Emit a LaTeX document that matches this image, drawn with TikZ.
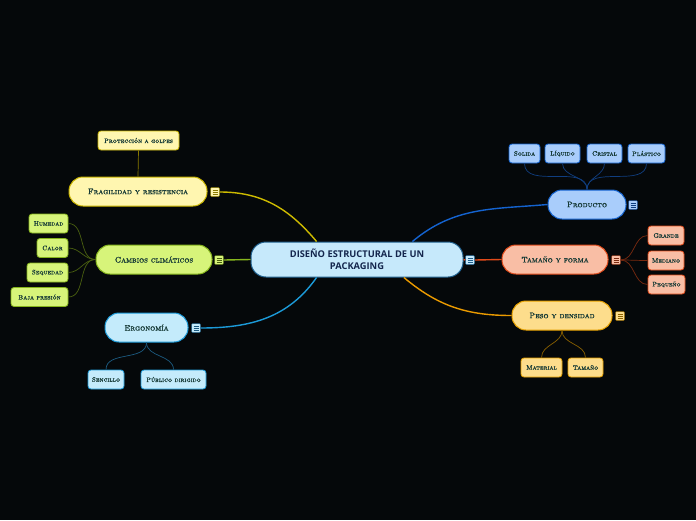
\documentclass[tikz,border=0pt]{standalone}
\usepackage{fontspec}
\newfontfamily\hubfont{Open Sans}
\newfontfamily\labelfont{lmromancaps10-regular.otf}[FakeBold=1.2]
\usepackage{xcolor}
\usetikzlibrary{calc}

\definecolor{bgdark}{HTML}{05080A}
\definecolor{labeltext}{HTML}{163A36}
\definecolor{hubfill}{HTML}{C6E9FB}
\definecolor{hubdraw}{HTML}{1F5F8C}
\definecolor{hubtext}{HTML}{14264D}
\definecolor{fragfill}{HTML}{FFF6B0}
\definecolor{fragdraw}{HTML}{C9B400}
\definecolor{fragtwig}{HTML}{8A7A00}
\definecolor{climfill}{HTML}{D7F47A}
\definecolor{climdraw}{HTML}{86B51D}
\definecolor{climtwig}{HTML}{4A6010}
\definecolor{ergofill}{HTML}{C4EBFB}
\definecolor{ergodraw}{HTML}{1C9AD8}
\definecolor{ergotwig}{HTML}{1C5A80}
\definecolor{prodfill}{HTML}{A9CDFB}
\definecolor{proddraw}{HTML}{1463D0}
\definecolor{prodtwig}{HTML}{103E80}
\definecolor{formfill}{HTML}{F9BEA5}
\definecolor{formdraw}{HTML}{E04A1A}
\definecolor{formtwig}{HTML}{7A2A10}
\definecolor{pesofill}{HTML}{FDDD8C}
\definecolor{pesodraw}{HTML}{E6A000}
\definecolor{pesotwig}{HTML}{8A6000}

\tikzset{
  branch/.style={draw, line width=1pt, rounded corners=14pt, minimum height=29pt, inner sep=0pt,
    text=labeltext, font=\labelfont\fontsize{8}{9}\selectfont},
  leaf/.style={draw, line width=0.8pt, rounded corners=3pt, minimum height=19pt, inner sep=0pt,
    text=labeltext, font=\labelfont\fontsize{6.5}{7}\selectfont},
  link/.style={line width=1.4pt},
  twig/.style={line width=0.7pt},
}

% name, position, fill, stroke
\newcommand{\mmicon}[4]{%
  \node[draw=#4, fill=#3, rounded corners=1pt, minimum size=9pt, inner sep=0pt, line width=0.5pt] (#1) at (#2) {};
  \foreach \dy in {-2,0,2}
    \draw[#4, line width=0.6pt] ($(#1.center)+(-2.5,\dy)$) -- ($(#1.center)+(2.5,\dy)$);
}

\begin{document}
\begin{tikzpicture}[x=1pt, y=-1pt]
  \fill[bgdark] (0,0) rectangle (696,520);
  \useasboundingbox (0,0) rectangle (696,520);

  % centre
  \node[draw=hubdraw, fill=hubfill, line width=1pt, rounded corners=15pt, minimum width=212pt, minimum height=35pt,
    inner sep=0pt, align=center, text=hubtext, font=\hubfont\bfseries\fontsize{9.3}{12}\selectfont] (hub) at (357,259.5)
    {DISEÑO ESTRUCTURAL DE UN\\PACKAGING};
  \mmicon{hubicon}{470,260}{hubfill}{hubdraw}

  % left branches
  \node[branch, draw=fragdraw, fill=fragfill, minimum width=138pt] (frag) at (138,191.5) {Fragilidad y resistencia};
  \mmicon{fragicon}{215,192}{fragfill}{fragtwig}
  \node[leaf, draw=fragdraw, fill=fragfill, minimum width=81pt] (golpes) at (138.5,140.5) {Protección a golpes};

  \node[branch, draw=climdraw, fill=climfill, minimum width=116pt] (clima) at (154,259.5) {Cambios climáticos};
  \mmicon{climaicon}{219,260}{climfill}{climtwig}
  \node[leaf, draw=climdraw, fill=climfill, minimum width=39pt] (humedad) at (48.5,223.5) {Humedad};
  \node[leaf, draw=climdraw, fill=climfill, minimum width=31pt] (calor) at (52.5,248) {Calor};
  \node[leaf, draw=climdraw, fill=climfill, minimum width=41pt] (sequedad) at (47.5,272.5) {Sequedad};
  \node[leaf, draw=climdraw, fill=climfill, minimum width=57pt] (presion) at (39.5,297) {Baja presión};

  \node[branch, draw=ergodraw, fill=ergofill, minimum width=83pt] (ergo) at (146.5,327.5) {Ergonomía};
  \mmicon{ergoicon}{196,328}{ergofill}{ergotwig}
  \node[leaf, draw=ergodraw, fill=ergofill, minimum width=36pt] (sencillo) at (106,379.5) {Sencillo};
  \node[leaf, draw=ergodraw, fill=ergofill, minimum width=65pt] (publico) at (173.5,379.5) {Público dirigido};

  % right branches
  \node[branch, draw=proddraw, fill=prodfill, minimum width=78pt] (prod) at (587,204.5) {Producto};
  \mmicon{prodicon}{633,205}{prodfill}{prodtwig}
  \node[leaf, draw=proddraw, fill=prodfill, minimum width=31pt] (solida) at (524.5,153.5) {Solida};
  \node[leaf, draw=proddraw, fill=prodfill, minimum width=35pt] (liquido) at (562.5,153.5) {Líquido};
  \node[leaf, draw=proddraw, fill=prodfill, minimum width=35pt] (cristal) at (604.5,153.5) {Cristal};
  \node[leaf, draw=proddraw, fill=prodfill, minimum width=37pt] (plastico) at (646.5,153.5) {Plástico};

  \node[branch, draw=formdraw, fill=formfill, minimum width=106pt] (forma) at (555,259.5) {Tamaño y forma};
  \mmicon{formaicon}{616,260}{formfill}{formtwig}
  \node[leaf, draw=formdraw, fill=formfill, minimum width=36pt] (grande) at (666,235.5) {Grande};
  \node[leaf, draw=formdraw, fill=formfill, minimum width=36pt] (mediano) at (666,260.5) {Mediano};
  \node[leaf, draw=formdraw, fill=formfill, minimum width=37pt] (pequeno) at (666.5,284.5) {Pequeño};

  \node[branch, draw=pesodraw, fill=pesofill, minimum width=100pt] (peso) at (562,315.5) {Peso y densidad};
  \mmicon{pesoicon}{620,316}{pesofill}{pesotwig}
  \node[leaf, draw=pesodraw, fill=pesofill, minimum width=41pt] (material) at (541.5,367.5) {Material};
  \node[leaf, draw=pesodraw, fill=pesofill, minimum width=35pt] (tamano) at (585.5,367.5) {Tamaño};

  % main links
  \draw[link, fragdraw!90!yellow] (fragicon.east) to[out=0, in=130] (hub.156);
  \draw[link, climdraw] (climaicon.east) -- (hub.west);
  \draw[link, ergodraw] (ergoicon.east) to[out=0, in=235] (hub.204);
  \draw[link, proddraw] (hub.18) to[out=40, in=185] (prod.west);
  \draw[link, formdraw] (hub.east) -- (hubicon.west);
  \draw[link, formdraw] (hubicon.east) -- (forma.west);
  \draw[link, pesodraw!80!orange] (hub.339) to[out=-40, in=180] (peso.west);

  % leaf links
  \draw[twig, fragtwig] (golpes.south) -- (frag.north);
  \foreach \leafname in {humedad, calor, sequedad, presion}
    \draw[twig, climtwig] (clima.west) to[out=180, in=0] (\leafname.east);
  \foreach \leafname in {sencillo, publico}
    \draw[twig, ergotwig] (ergo.south) to[out=-90, in=90] (\leafname.north);
  \foreach \leafname in {solida, liquido, cristal, plastico}
    \draw[twig, prodtwig] (prod.north) to[out=90, in=-90] (\leafname.south);
  \foreach \leafname in {grande, mediano, pequeno}
    \draw[twig, formtwig] (formaicon.east) to[out=0, in=180] (\leafname.west);
  \foreach \leafname in {material, tamano}
    \draw[twig, pesotwig] (peso.south) to[out=-90, in=90] (\leafname.north);
\end{tikzpicture}
\end{document}
